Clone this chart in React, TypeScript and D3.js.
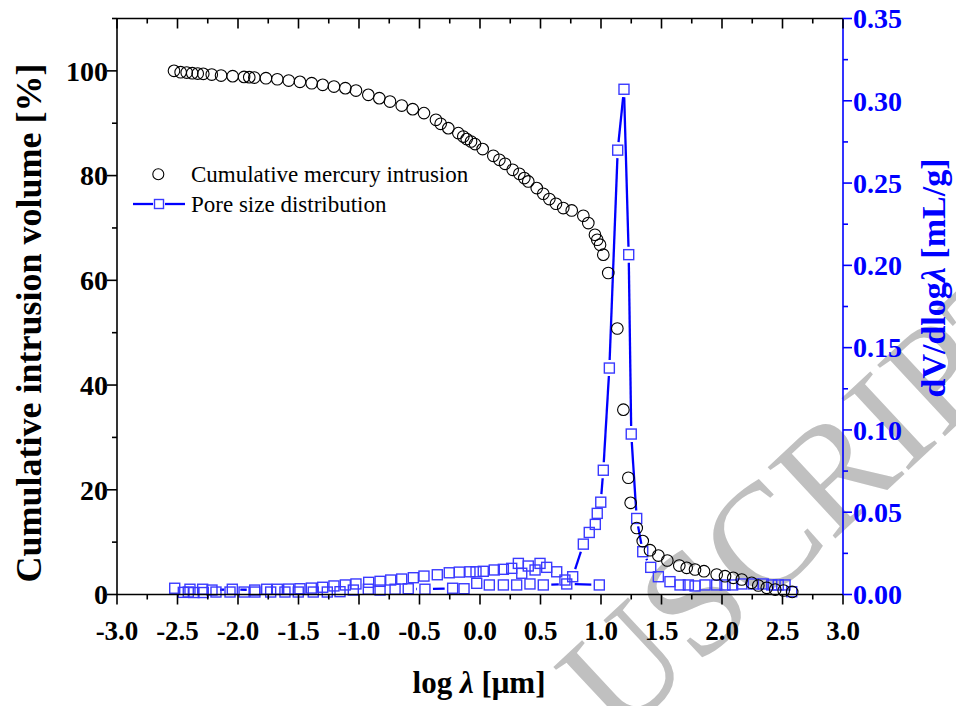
import React from 'react';
import * as d3 from 'd3';

// Cumulative mercury intrusion (circles)
const cumX = [-2.529, -2.474, -2.424, -2.378, -2.333, -2.287, -2.217, -2.14, -2.044, -1.95, -1.907, -1.865, -1.769, -1.675, -1.581, -1.488, -1.391, -1.3, -1.207, -1.113, -1.025, -0.923, -0.832, -0.744, -0.647, -0.556, -0.463, -0.364, -0.325, -0.262, -0.179, -0.138, -0.11, -0.074, -0.041, 0.022, 0.11, 0.16, 0.207, 0.27, 0.325, 0.366, 0.399, 0.469, 0.523, 0.573, 0.628, 0.688, 0.758, 0.854, 0.895, 0.95, 0.969, 0.992, 1.019, 1.06, 1.135, 1.185, 1.226, 1.245, 1.295, 1.345, 1.405, 1.474, 1.548, 1.647, 1.708, 1.777, 1.851, 1.956, 2.025, 2.093, 2.163, 2.245, 2.3, 2.37, 2.44, 2.51, 2.58];
const cumY = [100.0, 99.75, 99.68, 99.56, 99.48, 99.43, 99.29, 99.1, 98.99, 98.85, 98.8, 98.72, 98.6, 98.4, 98.15, 97.9, 97.65, 97.33, 97.0, 96.7, 96.24, 95.42, 94.79, 94.14, 93.38, 92.69, 91.93, 90.65, 89.89, 89.06, 88.11, 87.46, 86.97, 86.51, 86.01, 85.06, 83.78, 83.02, 82.25, 81.11, 80.34, 79.52, 78.88, 77.61, 76.53, 75.52, 74.62, 73.8, 73.34, 72.33, 70.93, 68.7, 67.75, 66.8, 64.9, 61.4, 50.8, 35.3, 22.3, 17.5, 12.7, 10.2, 8.46, 7.44, 6.49, 5.53, 5.09, 4.77, 4.45, 3.82, 3.5, 3.18, 2.86, 2.23, 1.72, 1.28, 0.95, 0.76, 0.5];

// Pore size distribution, main run
const psdX = [-2.523, -2.397, -2.292, -2.215, -2.047, -1.862, -1.763, -1.675, -1.581, -1.488, -1.394, -1.3, -1.207, -1.113, -1.025, -0.92, -0.826, -0.738, -0.647, -0.551, -0.463, -0.353, -0.254, -0.171, -0.083, -0.033, 0.027, 0.118, 0.193, 0.262, 0.317, 0.345, 0.399, 0.455, 0.496, 0.551, 0.634, 0.702, 0.766, 0.854, 0.903, 0.953, 0.969, 0.998, 1.019, 1.069, 1.138, 1.19, 1.229, 1.25, 1.295, 1.345, 1.411, 1.474, 1.57, 1.653, 1.722, 1.777, 1.86, 1.956, 2.025, 2.088, 2.163, 2.259, 2.341, 2.411, 2.465, 2.521, 2.576];
const psdY = [0.0038, 0.0032, 0.0032, 0.0027, 0.0032, 0.0027, 0.0032, 0.0032, 0.0033, 0.0035, 0.0039, 0.0044, 0.0052, 0.0058, 0.0064, 0.0074, 0.008, 0.0088, 0.0094, 0.0102, 0.0112, 0.012, 0.0132, 0.0136, 0.0138, 0.0138, 0.0141, 0.0149, 0.0153, 0.0159, 0.0189, 0.0129, 0.0173, 0.0149, 0.0189, 0.0165, 0.0138, 0.0088, 0.0108, 0.0306, 0.0377, 0.0426, 0.0493, 0.0561, 0.0755, 0.1376, 0.27, 0.307, 0.2065, 0.0975, 0.0462, 0.026, 0.0165, 0.0108, 0.0078, 0.0058, 0.0058, 0.0052, 0.0058, 0.0058, 0.0058, 0.0058, 0.0064, 0.0064, 0.0064, 0.0058, 0.0058, 0.0058, 0.0017];

// Pore size distribution, second (lower) run
const psd2X = [-2.452, -2.411, -2.364, -2.287, -2.182, -2.066, -1.95, -1.86, -1.73, -1.612, -1.502, -1.378, -1.262, -1.157, -1.047, -0.923, -0.826, -0.702, -0.593, -0.455, -0.226, -0.132, -0.027, 0.077, 0.193, 0.303, 0.413, 0.523, 0.717, 0.986];
const psd2Y = [0.0013, 0.0015, 0.0012, 0.0012, 0.0015, 0.0015, 0.0015, 0.0015, 0.0015, 0.0015, 0.0015, 0.0015, 0.0015, 0.0017, 0.0027, 0.0032, 0.0027, 0.0032, 0.0035, 0.0032, 0.0038, 0.0035, 0.0068, 0.0058, 0.0058, 0.0058, 0.0064, 0.0058, 0.0064, 0.0058];

const xTicks = [-3, -2.5, -2, -1.5, -1, -0.5, 0, 0.5, 1, 1.5, 2, 2.5, 3];
const leftTicks = [0, 20, 40, 60, 80, 100];
const rightTicks = [0, 0.05, 0.1, 0.15, 0.2, 0.25, 0.3, 0.35];

const FONT = "'Liberation Serif', 'Times New Roman', serif";
const BLUE = '#0000ff';
const SQ = '#3a3aff';

export default function App() {
  const W = 956, H = 706;
  const x = d3.scaleLinear().domain([-3, 3]).range([117, 843]);
  const yL = d3.scaleLinear().domain([0, 110]).range([594.5, 18.5]);
  const yR = d3.scaleLinear().domain([0, 0.35]).range([594.5, 18.5]);
  const [x0, x1] = x.range();
  const [yb, yt] = yL.range();

  const xMinor = d3.range(-3, 3.001, 0.25);
  const lMinor = d3.range(0, 110.001, 10);
  const rMinor = d3.range(0, 0.3501, 0.025);

  const gap = 8;
  const segs = (xs: number[], ys: number[]) => {
    const out: string[] = [];
    for (let i = 0; i < xs.length - 1; i++) {
      const ax = x(xs[i]), ay = yR(ys[i]), bx = x(xs[i + 1]), by = yR(ys[i + 1]);
      const dx = bx - ax, dy = by - ay;
      const len = Math.hypot(dx, dy);
      if (len <= 2 * gap) continue;
      const ux = dx / len, uy = dy / len;
      const p = d3.path();
      p.moveTo(ax + ux * gap, ay + uy * gap);
      p.lineTo(bx - ux * gap, by - uy * gap);
      out.push(p.toString());
    }
    return out;
  };
  const lines = [...segs(psdX, psdY), ...segs(psd2X, psd2Y)];
  const sqs = [
    ...psdX.map((v, i) => [x(v), yR(psdY[i])]),
    ...psd2X.map((v, i) => [x(v), yR(psd2Y[i])]),
  ];
  const S = 10;

  return (
    <svg width={W} height={H} style={{ position: 'absolute', left: 0, top: 0, background: '#fff' }} fontFamily={FONT}>
      <rect x={0} y={0} width={W} height={H} fill="#fff" />
      {/* watermark */}
      <text x={618} y={741} transform="rotate(-43 618 741)" fontSize={150} fill="#c0c0c0" fontFamily={FONT}>USCRIPT</text>

      {/* PSD lines and squares */}
      {lines.map((d, i) => (
        <path key={'l' + i} d={d} stroke={BLUE} strokeWidth={2.3} fill="none" />
      ))}
      {sqs.map(([cx, cy], i) => (
        <rect key={'s' + i} x={cx - S / 2} y={cy - S / 2} width={S} height={S} fill="none" stroke={SQ} strokeWidth={1.4} />
      ))}
      {/* cumulative circles */}
      {cumX.map((v, i) => (
        <circle key={'c' + i} cx={x(v)} cy={yL(cumY[i])} r={5.8} fill="none" stroke="#000" strokeWidth={1.1} />
      ))}

      {/* axes frame */}
      <line x1={x0} x2={x1} y1={yb} y2={yb} stroke="#000" strokeWidth={1.6} />
      <line x1={x0} x2={x1} y1={yt} y2={yt} stroke="#000" strokeWidth={1.6} />
      <line x1={x0} x2={x0} y1={yt} y2={yb} stroke="#000" strokeWidth={1.6} />
      <line x1={x1} x2={x1} y1={yt} y2={yb} stroke={BLUE} strokeWidth={1.6} />

      {/* bottom ticks */}
      {xMinor.map((t, i) => {
        const major = Math.abs(t * 2 - Math.round(t * 2)) < 1e-6;
        return (
          <g key={'xt' + i}>
            <line x1={x(t)} x2={x(t)} y1={yb} y2={yb + (major ? 10 : 5)} stroke="#000" strokeWidth={1.6} />
            <line x1={x(t)} x2={x(t)} y1={yt} y2={yt + (major ? 10 : 5)} stroke="#000" strokeWidth={1.6} />
          </g>
        );
      })}
      {xTicks.map((t, i) => (
        <text key={'xl' + i} x={x(t)} y={640} textAnchor="middle" fontSize={27} fontWeight="bold">{t.toFixed(1)}</text>
      ))}

      {/* left ticks */}
      {lMinor.map((t, i) => {
        const major = Math.round(t) % 20 === 0;
        return <line key={'lt' + i} x1={x0} x2={x0 - (major ? 10 : 5)} y1={yL(t)} y2={yL(t)} stroke="#000" strokeWidth={1.6} />;
      })}
      {leftTicks.map((t, i) => (
        <text key={'ll' + i} x={108} y={yL(t)} dy="0.35em" textAnchor="end" fontSize={28} fontWeight="bold">{t}</text>
      ))}

      {/* right ticks */}
      {rMinor.map((t, i) => {
        const major = Math.abs(t * 20 - Math.round(t * 20)) < 1e-6;
        return <line key={'rt' + i} x1={x1} x2={x1 + (major ? 9 : 5)} y1={yR(t)} y2={yR(t)} stroke={BLUE} strokeWidth={1.6} />;
      })}
      {rightTicks.map((t, i) => (
        <text key={'rl' + i} x={853} y={yR(t)} dy="0.35em" textAnchor="start" fontSize={28} fontWeight="bold" fill={BLUE}>{t.toFixed(2)}</text>
      ))}

      {/* titles */}
      <text x={479} y={693} textAnchor="middle" fontSize={31} fontWeight="bold">
        log <tspan fontStyle="italic">λ</tspan> [μm]
      </text>
      <text transform="translate(41 323) rotate(-90)" textAnchor="middle" fontSize={36} fontWeight="bold">
        Cumulative intrusion volume [%]
      </text>
      <text transform="translate(945 278) rotate(-90)" textAnchor="middle" fontSize={34} fontWeight="bold" fill={BLUE}>
        dV/dlog<tspan fontStyle="italic">λ</tspan> [mL/g]
      </text>

      {/* legend */}
      <circle cx={158.3} cy={174.3} r={5.5} fill="none" stroke="#000" strokeWidth={1.1} />
      <text x={191} y={182} fontSize={23}>Cumulative mercury intrusion</text>
      <line x1={133} x2={153} y1={204} y2={204} stroke={BLUE} strokeWidth={2.3} />
      <line x1={165} x2={185} y1={204} y2={204} stroke={BLUE} strokeWidth={2.3} />
      <rect x={159 - 4.5} y={204 - 4.5} width={9} height={9} fill="none" stroke={SQ} strokeWidth={1.4} />
      <text x={191} y={212} fontSize={23}>Pore size distribution</text>
    </svg>
  );
}
